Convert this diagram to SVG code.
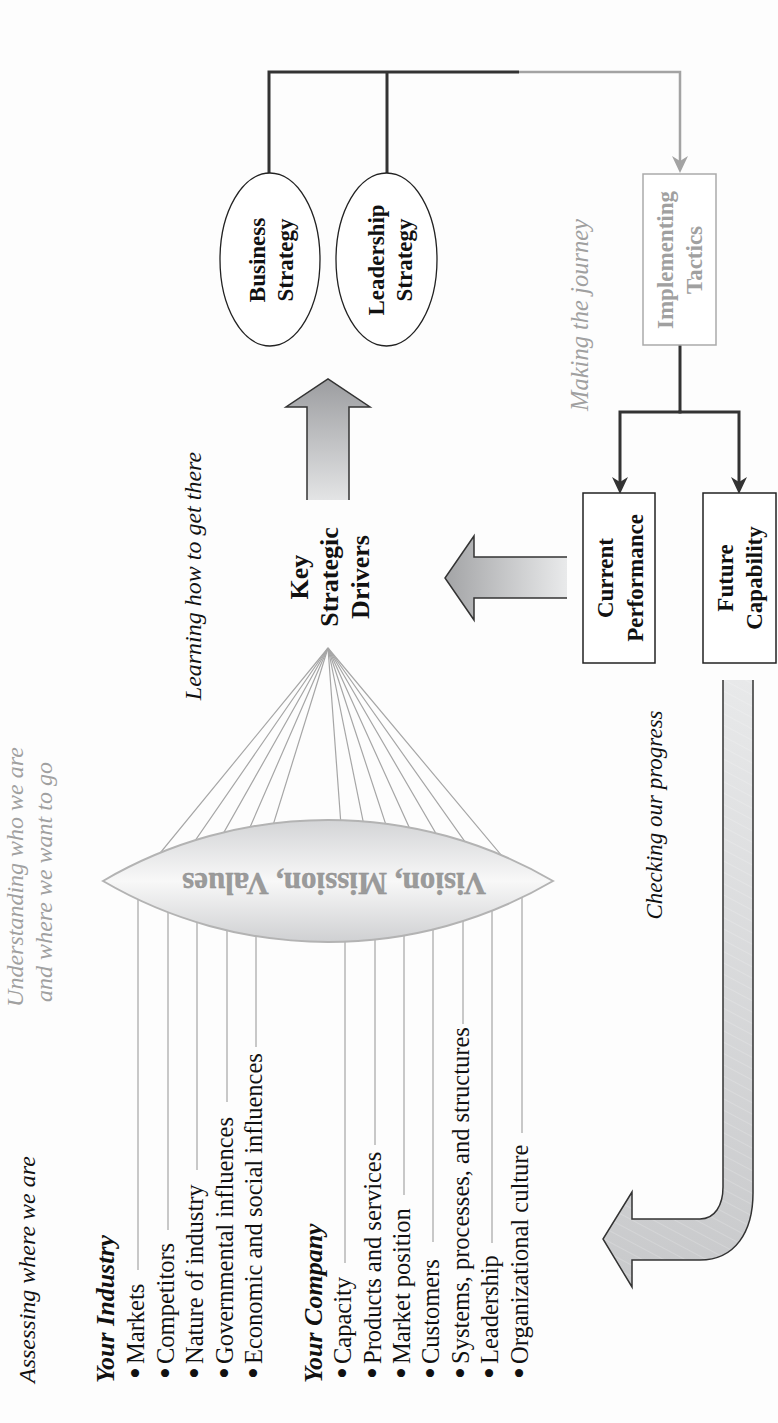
<svg xmlns="http://www.w3.org/2000/svg" width="778" height="1423" viewBox="0 0 778 1423">
<defs>
<style>
text{font-family:"Liberation Serif","Times New Roman",serif;}
.bd{font-weight:bold;font-size:23px;fill:#111;text-anchor:middle}
.kd{font-weight:bold;font-size:26px;fill:#111;text-anchor:middle}
.it{font-style:italic;font-size:24px;fill:#111}
.gy{fill:#a0a0a0}
.item{font-size:24.5px;fill:#111}
.bul{font-size:34px;fill:#111;text-anchor:middle}
.head{font-weight:bold;font-style:italic;font-size:26px;fill:#111}
.dk{stroke:#333;stroke-width:3;fill:none}
.gr{stroke:#a3a3a3;stroke-width:2.5;fill:none}
.fan{stroke:#a6a6a6;stroke-width:1.2;fill:none}
.box{fill:#fff;stroke:#222;stroke-width:1.5}
.gbox{fill:#fff;stroke:#aaa;stroke-width:1.5}
.ell{fill:#fff;stroke:#222;stroke-width:1.3}
.edge{fill:none;stroke:#333;stroke-width:1.5;stroke-linejoin:miter}
</style>
<marker id="ad" markerUnits="userSpaceOnUse" markerWidth="18" markerHeight="18" viewBox="0 0 18 18" refX="6" refY="8" orient="auto">
<path d="M0,0 L17,8 L0,16 L5,8 z" fill="#333"/>
</marker>
<marker id="ag" markerUnits="userSpaceOnUse" markerWidth="18" markerHeight="18" viewBox="0 0 18 18" refX="6" refY="8" orient="auto">
<path d="M0,0 L17,8 L0,16 L5,8 z" fill="#a3a3a3"/>
</marker>
<linearGradient id="gUp" x1="0" y1="0" x2="0" y2="1">
<stop offset="0" stop-color="#9c9da0"/><stop offset="1" stop-color="#e3e4e5"/>
</linearGradient>
<linearGradient id="gLeft" x1="0" y1="0" x2="1" y2="0">
<stop offset="0" stop-color="#a3a4a6"/><stop offset="1" stop-color="#e9eaeb"/>
</linearGradient>
<linearGradient id="gLens" gradientUnits="userSpaceOnUse" x1="0" y1="820" x2="0" y2="942">
<stop offset="0" stop-color="#d3d4d6"/><stop offset="0.5" stop-color="#f8f8f8"/><stop offset="1" stop-color="#cfd0d2"/>
</linearGradient>
<linearGradient id="gHook" gradientUnits="userSpaceOnUse" x1="0" y1="680" x2="0" y2="1290">
<stop offset="0" stop-color="#e8e9ea"/><stop offset="1" stop-color="#c8c9cb"/>
</linearGradient>
<pattern id="hatch" patternUnits="userSpaceOnUse" width="10" height="10" patternTransform="rotate(28)">
<line x1="0" y1="0" x2="10" y2="0" stroke="#ffffff" stroke-width="0.8" stroke-opacity="0.45"/>
</pattern>
</defs>
<rect width="778" height="1423" fill="#fdfdfd"/>

<g id="connectors">
<path class="dk" d="M269,173 L269,72 L519,72"/>
<path class="dk" d="M387,173 L387,72"/>
<path class="gr" d="M519,72 L680,72 L680,162" marker-end="url(#ag)"/>
<path class="dk" d="M680,345 L680,412"/>
<path class="dk" d="M681.5,412 L620,412 L620,483" marker-end="url(#ad)"/>
<path class="dk" d="M678.5,412 L739,412 L739,483" marker-end="url(#ad)"/>
<g id="fan-lines">
<path class="fan" d="M328,648 L138,880 L138,1270"/>
<path class="fan" d="M328,648 L168,880 L168,1230"/>
<path class="fan" d="M328,648 L197,880 L197,1170"/>
<path class="fan" d="M328,648 L227,880 L227,1102"/>
<path class="fan" d="M328,648 L256,880 L256,1047"/>
<path class="fan" d="M328,648 L345,880 L345,1263"/>
<path class="fan" d="M328,648 L375,880 L375,1145"/>
<path class="fan" d="M328,648 L404,880 L404,1195"/>
<path class="fan" d="M328,648 L433,880 L433,1242"/>
<path class="fan" d="M328,648 L463,880 L463,1024"/>
<path class="fan" d="M328,648 L492,880 L492,1243"/>
<path class="fan" d="M328,648 L522,880 L522,1133"/>
</g>
<g id="arrow-up">
<polygon points="328,379 370,407 349,407 349,500 307,500 307,407 286,407" fill="url(#gUp)"/>
<polyline class="edge" points="349,500 349,407 370,407 328,379 286,407 307,407 307,500"/>
</g>
<g id="arrow-left">
<polygon points="445,578 474,536 474,557 567,557 567,598 474,598 474,620" fill="url(#gLeft)"/>
<polyline class="edge" points="567,557 474,557 474,536 445,578 474,620 474,598 567,598"/>
</g>
<g id="arrow-hook">
<path d="M723,680 L723,1187 C723,1205 715,1219 700,1219 L632,1219 L632,1192 L603,1239 L632,1287 L632,1260 L700,1260 C735,1260 753,1232 753,1193 L753,680 Z" fill="url(#gHook)"/>
<path d="M723,680 L723,1187 C723,1205 715,1219 700,1219 L632,1219 L632,1192 L603,1239 L632,1287 L632,1260 L700,1260 C735,1260 753,1232 753,1193 L753,680 Z" fill="url(#hatch)"/>
<path class="edge" d="M723,680 L723,1187 C723,1205 715,1219 700,1219 L632,1219 L632,1192 L603,1239 L632,1287 L632,1260 L700,1260 C735,1260 753,1232 753,1193 L753,680"/>
</g>
</g>

<g id="lens">
<path d="M103,881 A445.5,445.5 0 0 1 553,881 A445.5,445.5 0 0 1 103,881 Z" fill="url(#gLens)" stroke="#b3b3b3" stroke-width="2"/>
</g>
<g id="lens-label">
<rect x="177" y="866" width="314" height="30" fill="url(#gLens)"/>
<text x="334" y="873" transform="rotate(180 334 873)" style="font-weight:bold;font-size:31px;fill:#9b9b9b;text-anchor:middle;stroke:#8e8e8e;stroke-width:0.4">Vision, Mission, Values</text>
</g>

<g id="business-strategy">
<ellipse class="ell" cx="270" cy="259.5" rx="50" ry="86.5"/>
<text class="bd" transform="rotate(-90 265 260)" x="265" y="260">Business<tspan x="265" dy="28">Strategy</tspan></text>
</g>
<g id="leadership-strategy">
<ellipse class="ell" cx="386.5" cy="259.5" rx="50.5" ry="86.5"/>
<text class="bd" transform="rotate(-90 384 260)" x="384" y="260">Leadership<tspan x="384" dy="28">Strategy</tspan></text>
</g>
<g id="implementing-tactics">
<rect class="gbox" x="643" y="174" width="73" height="171"/>
<text class="bd" style="fill:#a0a0a0" transform="rotate(-90 673 260)" x="673" y="260">Implementing<tspan x="673" dy="29">Tactics</tspan></text>
</g>
<g id="current-performance">
<rect class="box" x="583" y="493" width="72" height="170"/>
<text class="bd" transform="rotate(-90 613 578)" x="613" y="578">Current<tspan x="613" dy="30">Performance</tspan></text>
</g>
<g id="future-capability">
<rect class="box" x="703" y="493" width="73" height="170"/>
<text class="bd" transform="rotate(-90 733 578)" x="733" y="578">Future<tspan x="733" dy="29">Capability</tspan></text>
</g>
<g id="key-strategic-drivers">
<text class="kd" transform="rotate(-90 308 577)" x="308" y="577">Key<tspan x="308" dy="30">Strategic</tspan><tspan x="308" dy="31">Drivers</tspan></text>
</g>

<g id="labels">
<text class="it" transform="rotate(-90 35 1383)" x="35" y="1383">Assessing where we are</text>
<text class="it gy" style="text-anchor:middle" transform="rotate(-90 23 877)" x="23" y="877">Understanding who we are</text>
<text class="it gy" style="text-anchor:middle" transform="rotate(-90 52 882)" x="52" y="882">and where we want to go</text>
<text class="it" style="text-anchor:middle" transform="rotate(-90 201 576)" x="201" y="576">Learning how to get there</text>
<text class="it" style="text-anchor:middle;font-size:23px" transform="rotate(-90 662 815)" x="662" y="815">Checking our progress</text>
<text class="it gy" style="text-anchor:middle;font-size:24.5px" transform="rotate(-90 588 315)" x="588" y="315">Making the journey</text>
</g>

<g id="your-industry">
<text class="head" transform="rotate(-90 114 1383)" x="114" y="1383">Your Industry</text>
<text class="bul" transform="rotate(-90 147 1373)" x="147" y="1373">•</text>
<text class="item" transform="rotate(-90 144 1364)" x="144" y="1364">Markets</text>
<text class="bul" transform="rotate(-90 177 1373)" x="177" y="1373">•</text>
<text class="item" transform="rotate(-90 174 1364)" x="174" y="1364">Competitors</text>
<text class="bul" transform="rotate(-90 206 1373)" x="206" y="1373">•</text>
<text class="item" transform="rotate(-90 203 1364)" x="203" y="1364">Nature of industry</text>
<text class="bul" transform="rotate(-90 236 1373)" x="236" y="1373">•</text>
<text class="item" transform="rotate(-90 233 1364)" x="233" y="1364">Governmental influences</text>
<text class="bul" transform="rotate(-90 265 1373)" x="265" y="1373">•</text>
<text class="item" transform="rotate(-90 262 1364)" x="262" y="1364">Economic and social influences</text>
</g>
<g id="your-company">
<text class="head" transform="rotate(-90 322 1383)" x="322" y="1383">Your Company</text>
<text class="bul" transform="rotate(-90 354 1373)" x="354" y="1373">•</text>
<text class="item" transform="rotate(-90 351 1364)" x="351" y="1364">Capacity</text>
<text class="bul" transform="rotate(-90 384 1373)" x="384" y="1373">•</text>
<text class="item" transform="rotate(-90 381 1364)" x="381" y="1364">Products and services</text>
<text class="bul" transform="rotate(-90 413 1373)" x="413" y="1373">•</text>
<text class="item" transform="rotate(-90 410 1364)" x="410" y="1364">Market position</text>
<text class="bul" transform="rotate(-90 442 1373)" x="442" y="1373">•</text>
<text class="item" transform="rotate(-90 439 1364)" x="439" y="1364">Customers</text>
<text class="bul" transform="rotate(-90 472 1373)" x="472" y="1373">•</text>
<text class="item" transform="rotate(-90 469 1364)" x="469" y="1364">Systems, processes, and structures</text>
<text class="bul" transform="rotate(-90 501 1373)" x="501" y="1373">•</text>
<text class="item" transform="rotate(-90 498 1364)" x="498" y="1364">Leadership</text>
<text class="bul" transform="rotate(-90 531 1373)" x="531" y="1373">•</text>
<text class="item" transform="rotate(-90 528 1364)" x="528" y="1364">Organizational culture</text>
</g>
</svg>
